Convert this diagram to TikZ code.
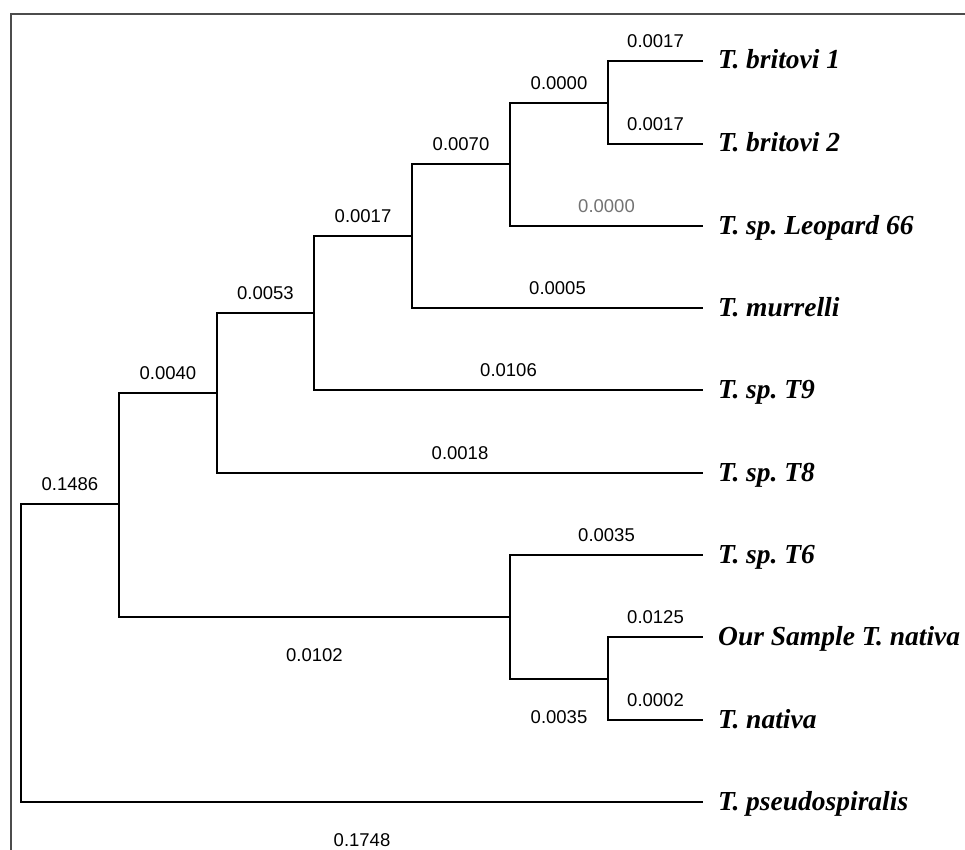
\documentclass[tikz,border=0pt]{standalone}
\usepackage{fontspec}
\setmainfont{Liberation Serif}
\setsansfont{Liberation Sans}
\usepackage{tikz}
\frenchspacing

\tikzset{
  branch/.style={line width=2.2pt},
  dist/.style={font=\sffamily\fontsize{18.5}{20}\selectfont, inner sep=1pt},
  taxon/.style={anchor=base west, xshift=15pt, yshift=-8pt, inner sep=0pt,
    font=\bfseries\itshape\fontsize{27.5}{30}\selectfont}
}

\begin{document}
\begin{tikzpicture}[x=1pt, y=-1pt]
  \useasboundingbox (0,0) rectangle (965,850);
  \draw[line width=1.2pt, black!70] (11,850) -- (11,14) -- (965,14);

  % inner nodes of the tree
  \coordinate (root) at (21,653);
  \coordinate (n1) at (119,504);
  \coordinate (n2) at (217,393);
  \coordinate (n3) at (314,313);
  \coordinate (n4) at (412,236);
  \coordinate (n5) at (510,164);
  \coordinate (n6) at (608,103);
  \coordinate (n7) at (510,617);
  \coordinate (n8) at (608,679);

  % tips and taxa
  \foreach \y [count=\i] in {61,144,226,308,390,473,555,637,720,802}
    \coordinate (t\i) at (703,\y);
  \node[taxon] (l1) at (t1) {T. britovi 1};
  \node[taxon] (l2) at (t2) {T. britovi 2};
  \node[taxon] (l3) at (t3) {T. sp. Leopard 66};
  \node[taxon] (l4) at (t4) {T. murrelli};
  \node[taxon] (l5) at (t5) {T. sp. T9};
  \node[taxon] (l6) at (t6) {T. sp. T8};
  \node[taxon] (l7) at (t7) {T. sp. T6};
  \node[taxon] (l8) at (t8) {Our Sample T. nativa};
  \node[taxon] (l9) at (t9) {T. nativa};
  \node[taxon] (l10) at (t10) {T. pseudospiralis};

  % branches with their lengths
  \draw[branch] (root) |- (n1) node[pos=.75, dist, above=11.5pt] {0.1486};
  \draw[branch] (root) |- (t10) node[pos=.75, dist, below=29.5pt] {0.1748};
  \draw[branch] (n1) |- (n2) node[pos=.75, dist, above=11.5pt] {0.0040};
  \draw[branch] (n1) |- (n7) node[pos=.75, dist, below=29.5pt] {0.0102};
  \draw[branch] (n2) |- (n3) node[pos=.75, dist, above=11.5pt] {0.0053};
  \draw[branch] (n2) |- (t6) node[pos=.75, dist, above=11.5pt] {0.0018};
  \draw[branch] (n3) |- (n4) node[pos=.75, dist, above=11.5pt] {0.0017};
  \draw[branch] (n3) |- (t5) node[pos=.75, dist, above=11.5pt] {0.0106};
  \draw[branch] (n4) |- (n5) node[pos=.75, dist, above=11.5pt] {0.0070};
  \draw[branch] (n4) |- (t4) node[pos=.75, dist, above=11.5pt] {0.0005};
  \draw[branch] (n5) |- (n6) node[pos=.75, dist, above=11.5pt] {0.0000};
  \draw[branch] (n5) |- (t3) node[pos=.75, dist, above=11.5pt, black!55] {0.0000};
  \draw[branch] (n6) |- (t1) node[pos=.75, dist, above=11.5pt] {0.0017};
  \draw[branch] (n6) |- (t2) node[pos=.75, dist, above=11.5pt] {0.0017};
  \draw[branch] (n7) |- (t7) node[pos=.75, dist, above=11.5pt] {0.0035};
  \draw[branch] (n7) |- (n8) node[pos=.75, dist, below=29.5pt] {0.0035};
  \draw[branch] (n8) |- (t8) node[pos=.75, dist, above=11.5pt] {0.0125};
  \draw[branch] (n8) |- (t9) node[pos=.75, dist, above=11.5pt] {0.0002};
\end{tikzpicture}
\end{document}
